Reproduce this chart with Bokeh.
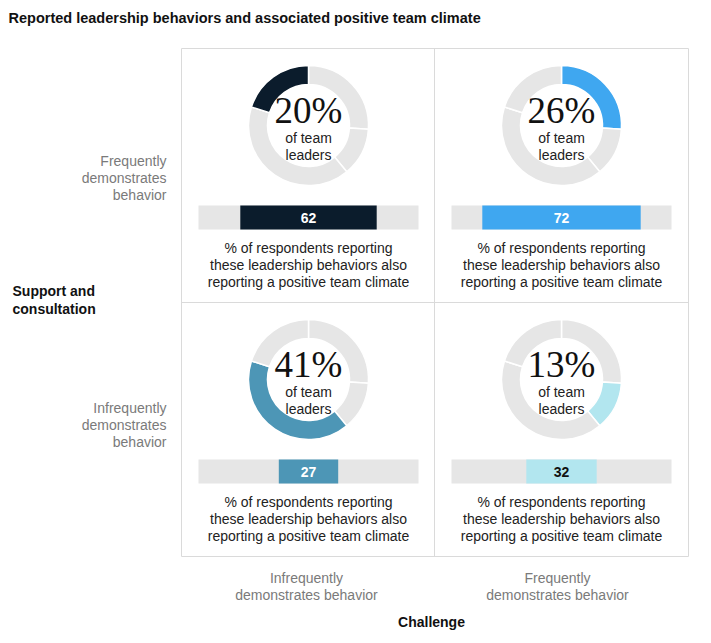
from bokeh.plotting import figure
from bokeh.models import Range1d
from bokeh.embed import file_html
from bokeh.resources import INLINE
from bokeh.core.properties import value

# ---- data ----
panel_names = ["TL", "TR", "BL", "BR"]
leader_share = [20, 26, 41, 13]          # % of team leaders
positive_climate = [62, 72, 27, 32]      # % reporting positive team climate
ring_order = [1, 3, 2, 0]                # clockwise from 12 o'clock: TR, BR, BL, TL
panel_colors = ["#0b1c2c", "#3fa7f0", "#4d96b6", "#b2e6ef"]
value_text_colors = ["#ffffff", "#ffffff", "#ffffff", "#111111"]
row_labels = [["Frequently", "demonstrates", "behavior"],
              ["Infrequently", "demonstrates", "behavior"]]
col_labels = [["Infrequently", "demonstrates behavior"],
              ["Frequently", "demonstrates behavior"]]
y_axis_title = ["Support and", "consultation"]
x_axis_title = "Challenge"
title_text = "Reported leadership behaviors and associated positive team climate"
caption_lines = ["% of respondents reporting",
                 "these leadership behaviors also",
                 "reporting a positive team climate"]

# ---- layout ----
W, H = 695, 635
SANS = value("Liberation Sans")
SERIF = value("Liberation Serif")
GREY = "#e6e6e6"
GRID = "#dadada"

def Y(py):
    return H - py

p = figure(width=W, height=H, output_backend="svg", toolbar_location=None,
           x_range=Range1d(0, W), y_range=Range1d(0, H),
           min_border=0)
p.axis.visible = False
p.grid.visible = False
p.outline_line_color = None
p.background_fill_color = "white"
p.border_fill_color = "white"

gx0, gx1, gy0, gy1 = 181, 688, 48, 556
pw, ph = 253, 254
# grid lines
p.segment(x0=[gx0, gx0, gx0, gx0, gx1, gx0 + pw], y0=[Y(gy0), Y(gy1), Y(gy0 + ph), Y(gy0), Y(gy0), Y(gy0)],
          x1=[gx1, gx1, gx1, gx0, gx1, gx0 + pw], y1=[Y(gy0), Y(gy1), Y(gy0 + ph), Y(gy1), Y(gy1), Y(gy1)],
          line_color=GRID, line_width=1)

cols = [0, 1, 0, 1]
rows = [0, 0, 1, 1]
R_OUT, R_IN = 60, 41
BAR_W = 220

for i in range(4):
    cx = gx0 + cols[i] * pw + 127
    top = gy0 + rows[i] * ph
    cy = top + 77
    # ring
    cum = 0
    for j in ring_order:
        s = leader_share[j]
        a_start = 90 - (cum + s) * 3.6
        a_end = 90 - cum * 3.6
        col = panel_colors[i] if j == i else GREY
        p.annular_wedge(x=cx, y=Y(cy), inner_radius=R_IN, outer_radius=R_OUT,
                        start_angle=a_start, end_angle=a_end, start_angle_units="deg",
                        end_angle_units="deg", fill_color=col, line_color="white", line_width=1.5)
        cum += s
    p.text(x=[cx], y=[Y(top + 62)], text=[f"{leader_share[i]}%"], text_font=SERIF,
           text_font_size="37px", text_align="center", text_baseline="middle", text_color="#111111")
    p.text(x=[cx, cx], y=[Y(top + 89), Y(top + 106)], text=["of team", "leaders"], text_font=SANS,
           text_font_size="14px", text_align="center", text_baseline="middle", text_color="#222222")
    # bar
    bt, bb = top + 157, top + 181
    p.quad(left=cx - BAR_W / 2, right=cx + BAR_W / 2, top=Y(bt), bottom=Y(bb), fill_color=GREY, line_color=None)
    half = BAR_W * positive_climate[i] / 100 / 2
    p.quad(left=cx - half, right=cx + half, top=Y(bt), bottom=Y(bb), fill_color=panel_colors[i], line_color=None)
    p.text(x=[cx], y=[Y((bt + bb) / 2)], text=[str(positive_climate[i])], text_font=SANS,
           text_font_size="14px", text_font_style="bold", text_align="center", text_baseline="middle",
           text_color=value_text_colors[i])
    p.text(x=[cx] * 3, y=[Y(top + 199), Y(top + 216), Y(top + 233)], text=caption_lines, text_font=SANS,
           text_font_size="14px", text_align="center", text_baseline="middle", text_color="#222222")

# row labels
for r, lines in enumerate(row_labels):
    base = 160 + r * 247
    p.text(x=[166] * 3, y=[Y(base + k * 17) for k in range(3)], text=lines, text_font=SANS,
           text_font_size="14px", text_align="right", text_baseline="middle", text_color="#7a7a7a")
# column labels
for c, lines in enumerate(col_labels):
    cx = 306 + c * 251
    p.text(x=[cx] * 2, y=[Y(577), Y(594)], text=lines, text_font=SANS,
           text_font_size="14px", text_align="center", text_baseline="middle", text_color="#7a7a7a")
# axis titles
p.text(x=[12, 12], y=[Y(290), Y(308)], text=y_axis_title, text_font=SANS, text_font_size="14px",
       text_font_style="bold", text_align="left", text_baseline="middle", text_color="#111111")
p.text(x=[431], y=[Y(621)], text=[x_axis_title], text_font=SANS, text_font_size="14px",
       text_font_style="bold", text_align="center", text_baseline="middle", text_color="#111111")
# title
p.text(x=[8], y=[Y(17)], text=[title_text], text_font=SANS, text_font_size="14.5px",
       text_font_style="bold", text_align="left", text_baseline="middle", text_color="#111111")

open("out.html", "w").write(file_html(p, INLINE))
